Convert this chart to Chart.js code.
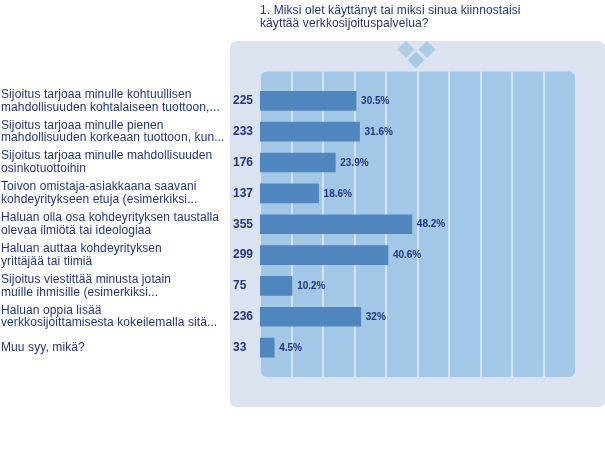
<!DOCTYPE html>
<html><head><meta charset="utf-8">
<style>html,body{margin:0;padding:0;background:#fff}canvas{display:block}</style>
<script src="https://cdn.jsdelivr.net/npm/chart.js@4/dist/chart.umd.min.js"></script>
</head><body>
<div style="width:605px;height:465px"><canvas id="c" width="605" height="465"></canvas></div>
<script>
const titleLines = ["1. Miksi olet käyttänyt tai miksi sinua kiinnostaisi", "käyttää verkkosijoituspalvelua?"];
const categories = [
  ["Sijoitus tarjoaa minulle kohtuullisen", "mahdollisuuden kohtalaiseen tuottoon,..."],
  ["Sijoitus tarjoaa minulle pienen", "mahdollisuuden korkeaan tuottoon, kun..."],
  ["Sijoitus tarjoaa minulle mahdollisuuden", "osinkotuottoihin"],
  ["Toivon omistaja-asiakkaana saavani", "kohdeyritykseen etuja (esimerkiksi..."],
  ["Haluan olla osa kohdeyrityksen taustalla", "olevaa ilmiötä tai ideologiaa"],
  ["Haluan auttaa kohdeyrityksen", "yrittäjää tai tiimiä"],
  ["Sijoitus viestittää minusta jotain", "muille ihmisille (esimerkiksi..."],
  ["Haluan oppia lisää", "verkkosijoittamisesta kokeilemalla sitä..."],
  ["Muu syy, mikä?"]
];
const counts = [225, 233, 176, 137, 355, 299, 75, 236, 33];
const percents = [30.5, 31.6, 23.9, 18.6, 48.2, 40.6, 10.2, 32, 4.5];

const NAVY = "#24357f";
const rr = (c, x, y, w, h, r) => { c.beginPath(); c.roundRect(x, y, w, h, r); c.fill(); };

const backdrop = {
  id: "backdrop",
  beforeDraw(chart) { chart.ctx.letterSpacing = "0.1px"; },
  beforeDatasetsDraw(chart) {
    const c = chart.ctx, xs = chart.scales.x, a = chart.chartArea;
    c.save();
    c.fillStyle = "#dbe2f0";
    rr(c, 230, 41, 375, 366, 6);
    c.fillStyle = "#a3c7e6";
    rr(c, 261, a.top - 14, 314, a.bottom - a.top + 28, 6);
    c.fillStyle = "#d3e5f5";
    xs.ticks.forEach(t => {
      if (t.value <= xs.min || t.value >= xs.max) return;
      const px = Math.round(xs.getPixelForValue(t.value));
      c.fillRect(px - 1, a.top - 14, 2, a.bottom - a.top + 28);
    });
    [[406, 49.5, "#aecee8"], [427, 49.5, "#aacce7"], [416, 60, "#a5c8e5"]].forEach(([x, y, col]) => {
      c.fillStyle = col;
      c.beginPath();
      c.moveTo(x - 8.5, y); c.lineTo(x, y - 8.5); c.lineTo(x + 8.5, y); c.lineTo(x, y + 8.5);
      c.closePath(); c.fill();
    });
    c.restore();
  }
};
const valueLabels = {
  id: "valueLabels",
  afterDatasetsDraw(chart) {
    const c = chart.ctx, xs = chart.scales.x, ys = chart.scales.y;
    c.save();
    c.letterSpacing = "0px";
    c.fillStyle = NAVY;
    c.textBaseline = "middle";
    percents.forEach((v, i) => {
      const y = ys.getPixelForValue(i);
      c.font = "bold 12px 'Liberation Sans'";
      c.textAlign = "left";
      c.fillText(String(counts[i]), 233, y);
      c.font = "bold 10px 'Liberation Sans'";
      c.fillText(v + "%", xs.getPixelForValue(v) + 5, y + 0.5);
    });
    c.restore();
  }
};

new Chart(document.getElementById("c"), {
  type: "bar",
  plugins: [backdrop, valueLabels],
  data: {
    labels: categories,
    datasets: [{ data: percents, backgroundColor: "#4f86bd", borderWidth: 0, barThickness: 19 }]
  },
  options: {
    indexAxis: "y",
    responsive: false,
    animation: false,
    layout: { padding: { left: 1, right: 30, top: 4, bottom: 102 } },
    plugins: {
      legend: { display: false },
      tooltip: { enabled: false },
      title: {
        display: true,
        text: titleLines,
        align: "start",
        fullSize: false,
        color: NAVY,
        font: { family: "'Liberation Sans'", size: 12, weight: "normal", lineHeight: 1.08 },
        padding: { top: 0, bottom: 55.5 }
      }
    },
    scales: {
      x: {
        display: false,
        min: 0, max: 100,
        ticks: { stepSize: 10 }
      },
      y: {
        afterFit(s) { s.width = 259; },
        grid: { display: false },
        border: { display: false },
        ticks: {
          crossAlign: "far",
          autoSkip: false,
          padding: 0,
          color: NAVY,
          font: { family: "'Liberation Sans'", size: 12, lineHeight: 1.06 }
        }
      }
    }
  }
});
</script>
</body></html>
